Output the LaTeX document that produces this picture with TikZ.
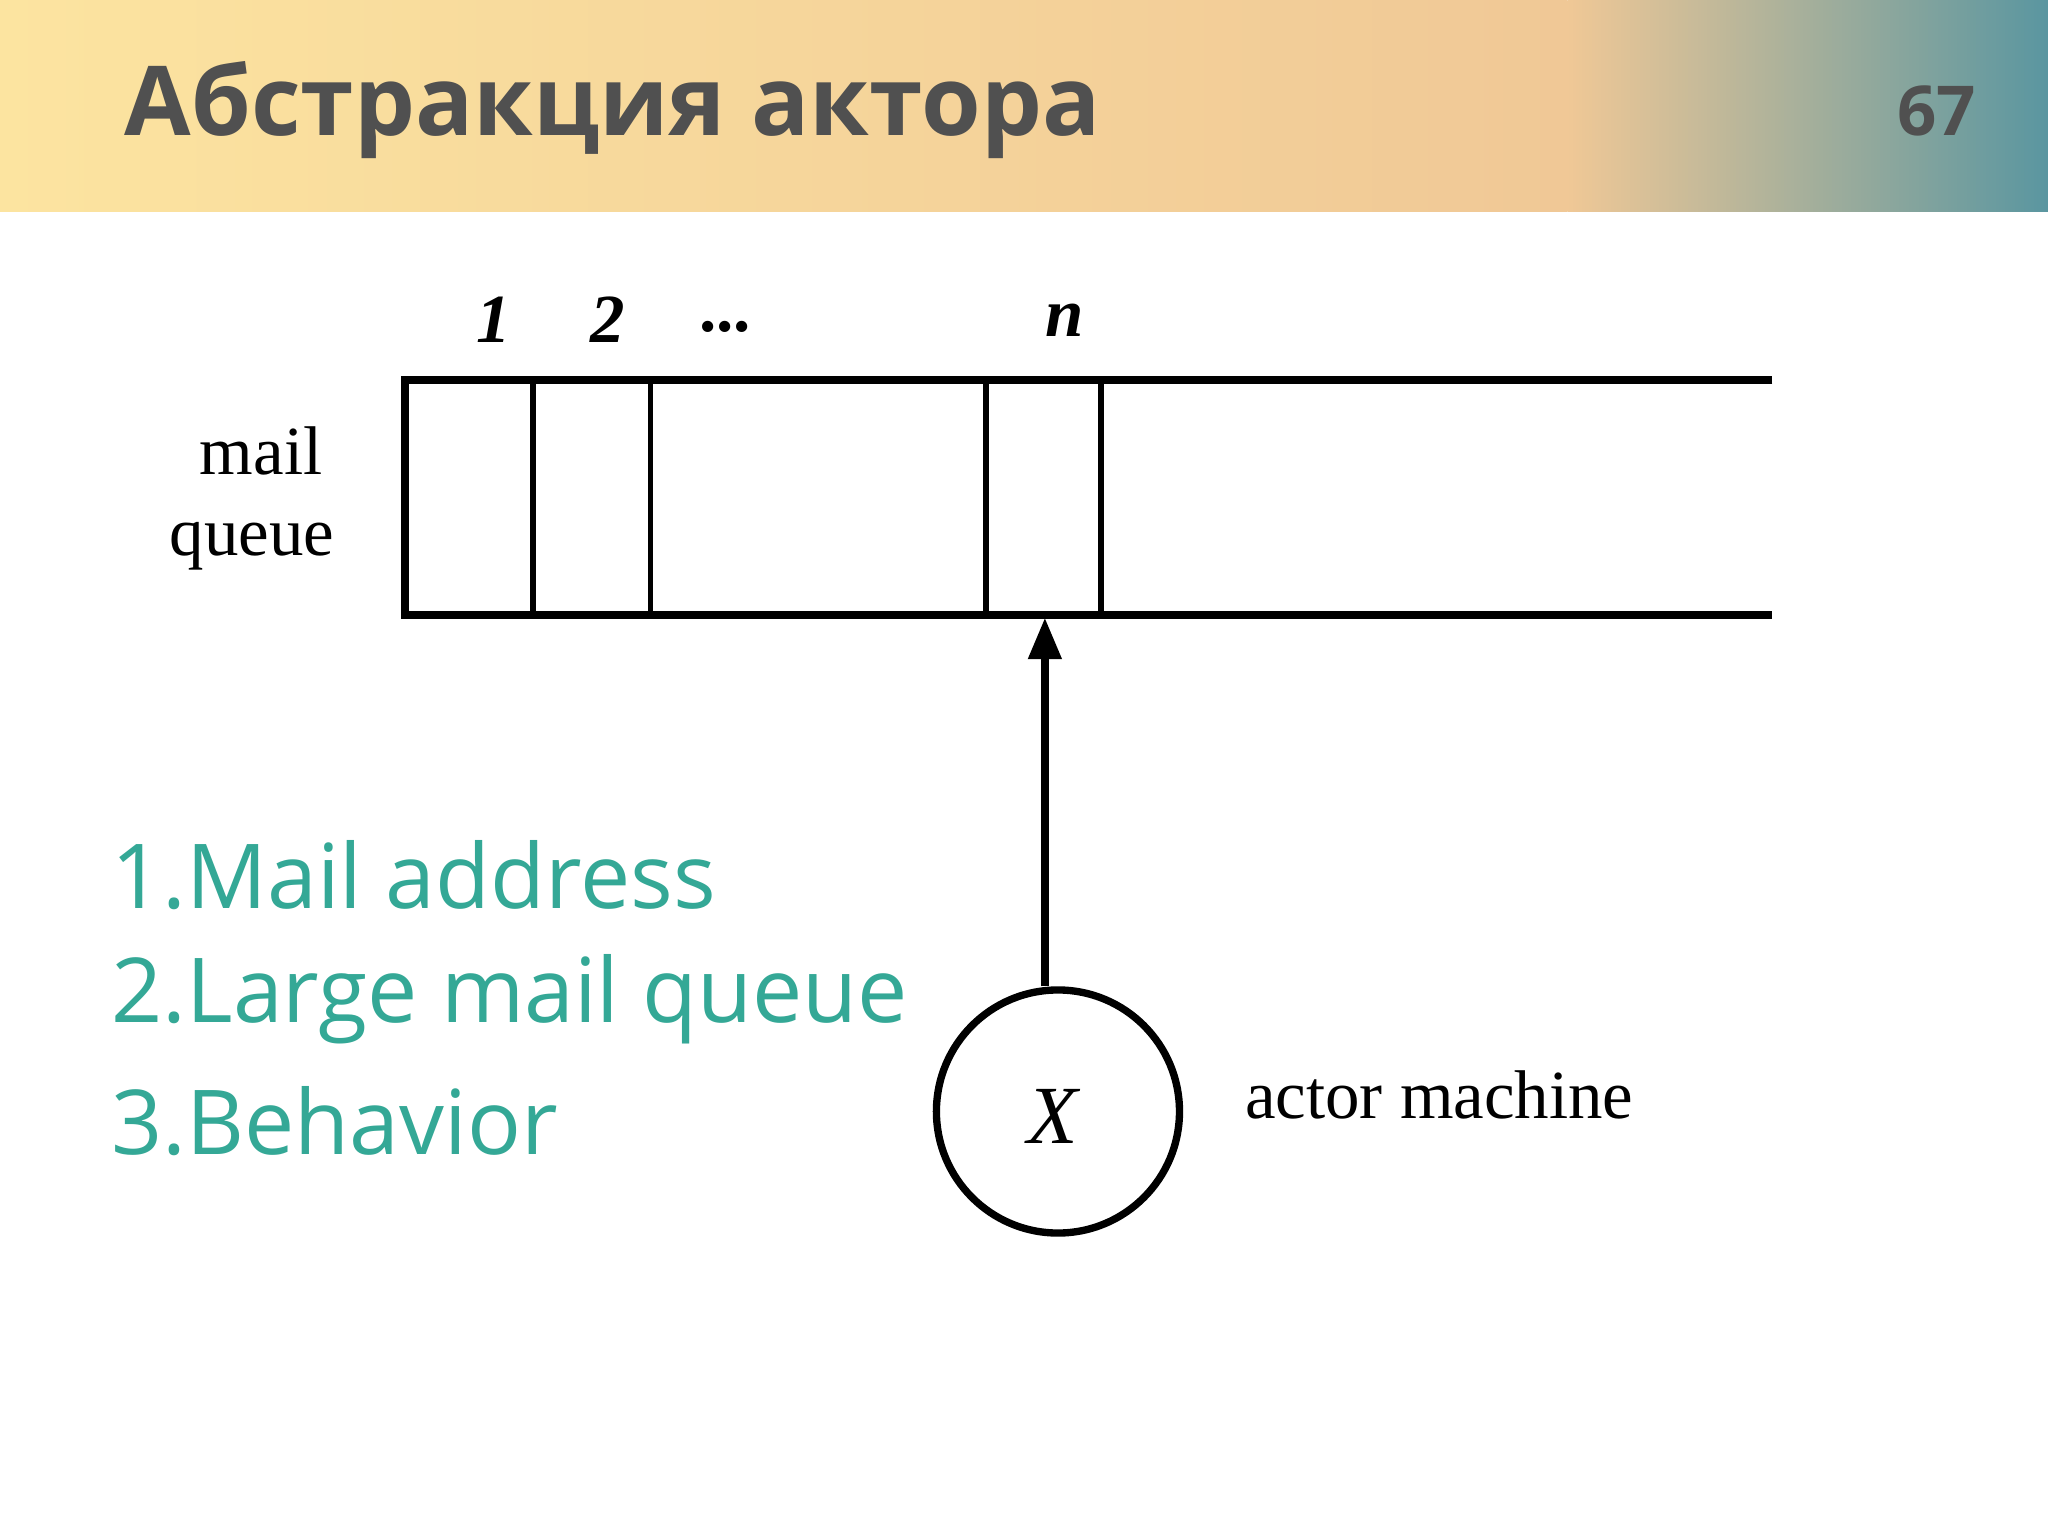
\documentclass[tikz,border=0pt]{standalone}
\usepackage{fontspec}
\setmainfont{Liberation Serif}
\newfontfamily\osans{Open Sans}
\usetikzlibrary{arrows.meta}
\definecolor{teal1}{RGB}{52,168,150}
\definecolor{ttl}{RGB}{80,80,80}
\begin{document}
\begin{tikzpicture}[x=0.01cm,y=-0.01cm,
  qline/.style={line width=1.7pt},
  cell/.style={line width=1.2pt},
  lbl/.style={font=\fontsize{15}{17}\selectfont},
  lst/.style={font=\osans\fontsize{19.5}{23}\selectfont,text=teal1,anchor=west}]
\useasboundingbox (0,0) rectangle (1568,1176);
\fill[white] (0,0) rectangle (1568,1176);
\shade[left color={rgb,255:red,252;green,228;blue,160}, right color={rgb,255:red,240;green,200;blue,150}] (0,0) rectangle (1200,162);
\shade[left color={rgb,255:red,240;green,200;blue,150}, right color={rgb,255:red,90;green,150;blue,160}] (1200,0) rectangle (1568,162);
\node[anchor=west,text=ttl,font=\osans\bfseries\fontsize{21}{25}\selectfont] (title) at (83,84) {Абстракция актора};
\node[text=ttl,font=\osans\bfseries\fontsize{15}{18}\selectfont] (num) at (1483,85) {67};
% queue
\coordinate (tl) at (310,291); \coordinate (bl) at (310,471);
\coordinate (tr) at (1357,291); \coordinate (br) at (1357,471);
\draw[qline] (tr) -- (tl) -- (bl) -- (br);
\foreach \x in {408,498,755,843} \draw[cell] (\x,291) -- (\x,471);
\node[lbl,font=\bfseries\itshape\fontsize{15}{17}\selectfont] (n1) at (378,245) {1};
\node[lbl,font=\bfseries\itshape\fontsize{15}{17}\selectfont] (n2) at (465,245) {2};
\node[lbl,font=\bfseries\fontsize{15}{17}\selectfont] (nd) at (555,250) {...};
\node[lbl,font=\bfseries\itshape\fontsize{15}{17}\selectfont] (nn) at (815,245) {n};
\node[lbl] (mail) at (200,345) {mail};
\node[lbl] (queue) at (193,418) {queue};
\node[circle,draw,line width=1.6pt,minimum size=1.86cm,inner sep=0pt] (x) at (810,851) {};
\node[lbl,font=\itshape\fontsize{18}{20}\selectfont] (xl) at (806,855) {X};
\coordinate (qa) at (800,473);
\draw[line width=1.6pt,-{Triangle[length=9pt,width=7pt]}] (x.north -| qa) -- (qa);
\node[lbl] (am) at (1102,838) {actor machine};
\node[lst] (l1) at (73,670) {1.Mail address};
\node[lst] (l2) at (73,765) {2.Large mail queue};
\node[lst] (l3) at (73,858) {3.Behavior};
\end{tikzpicture}
\end{document}
